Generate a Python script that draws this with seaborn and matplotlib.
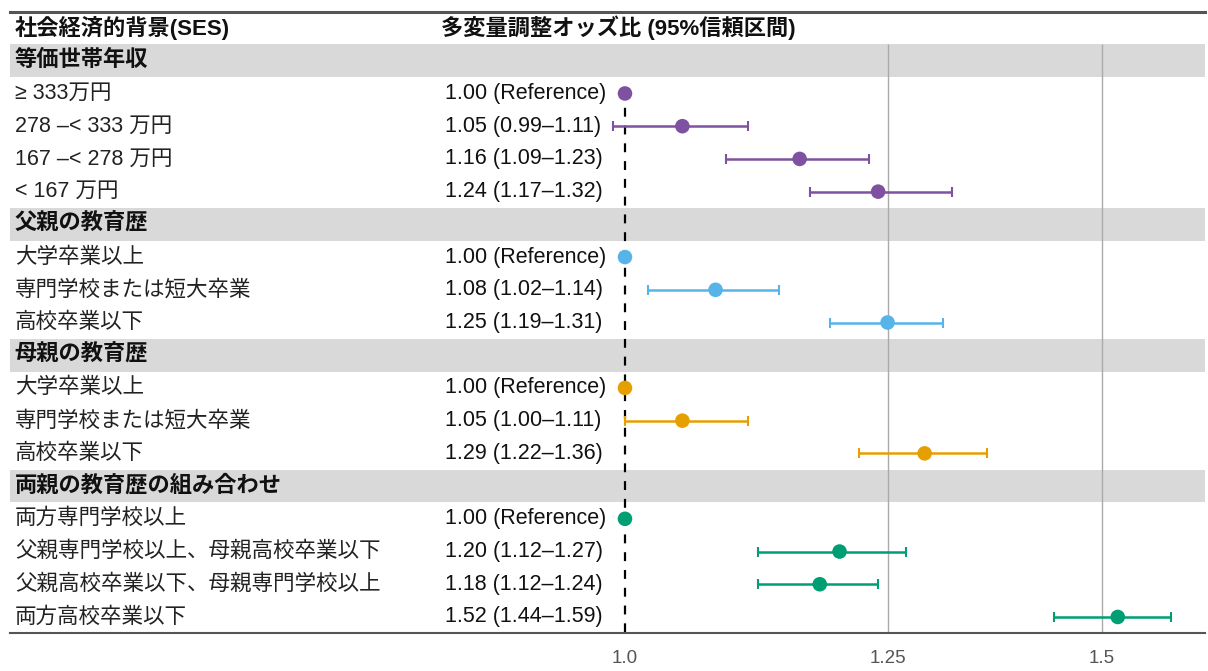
import numpy as np
import pandas as pd
import matplotlib
matplotlib.use("Agg")
import matplotlib.pyplot as plt
import seaborn as sns

# Forest plot data
groups = ["等価世帯年収", "父親の教育歴", "母親の教育歴", "両親の教育歴の組み合わせ"]
labels = [
    ["≥ 333万円", "278 –< 333 万円", "167 –< 278 万円", "< 167 万円"],
    ["大学卒業以上", "専門学校または短大卒業", "高校卒業以下"],
    ["大学卒業以上", "専門学校または短大卒業", "高校卒業以下"],
    ["両方専門学校以上", "父親専門学校以上、母親高校卒業以下",
     "父親高校卒業以下、母親専門学校以上", "両方高校卒業以下"],
]
odds = [[1.00, 1.05, 1.16, 1.24], [1.00, 1.08, 1.25], [1.00, 1.05, 1.29], [1.00, 1.20, 1.18, 1.52]]
lower = [[1.00, 0.99, 1.09, 1.17], [1.00, 1.02, 1.19], [1.00, 1.00, 1.22], [1.00, 1.12, 1.12, 1.44]]
upper = [[1.00, 1.11, 1.23, 1.32], [1.00, 1.14, 1.31], [1.00, 1.11, 1.36], [1.00, 1.27, 1.24, 1.59]]
colors = ["#7E52A0", "#56B4E9", "#E69F00", "#009E73"]
xticks = [1.0, 1.25, 1.5]
xtick_labels = ["1.0", "1.25", "1.5"]

sns.set_style("white")
plt.rcParams["font.family"] = ["Liberation Sans", "Noto Sans CJK JP", "DejaVu Sans"]

rows = []
band_rows = []
r = 1
for g, name in enumerate(groups):
    band_rows.append((r, name))
    r += 1
    for i, lab in enumerate(labels[g]):
        rows.append(dict(row=r, group=name, label=lab, odds=odds[g][i],
                         lo=lower[g][i], hi=upper[g][i], ref=(i == 0)))
        r += 1
df = pd.DataFrame(rows)
nrows = r

fig = plt.figure(figsize=(12.08, 6.71), dpi=100)
ax = fig.add_axes([10 / 1208, 38 / 671, 1195 / 1208, 621 / 671])
ax.set_xscale("log")
ax.set_xlim(0.593, 1.637)
ax.set_ylim(nrows - 0.51, -0.49)
ytr = ax.get_yaxis_transform()

# grey section bands
for br, name in band_rows:
    ax.axhspan(br - 0.5, br + 0.5, color="#D9D9D9", lw=0, zorder=0)
    ax.text(0.004, br, name, transform=ytr, ha="left", va="center",
            fontsize=16, fontweight="bold", color="#111111")

# gridlines and reference line
ax.vlines([1.25, 1.5], 0.5, nrows - 0.51, color="#AAAAAA", lw=1, zorder=1)
ax.vlines(1.0, 1.9, nrows - 0.51, color="black", lw=1.6, linestyles=(0, (4, 4)), zorder=2)

# error bars
palette = dict(zip(groups, colors))
for _, d in df[~df["ref"]].iterrows():
    ax.errorbar(d["odds"], d["row"], xerr=[[d["odds"] - d["lo"]], [d["hi"] - d["odds"]]],
                fmt="none", ecolor=palette[d["group"]], elinewidth=1.8, capsize=3.5,
                capthick=1.5, zorder=3)
sns.scatterplot(data=df, x="odds", y="row", hue="group", palette=palette, s=110,
                edgecolor="none", legend=False, zorder=4, ax=ax)

# text columns
for _, d in df.iterrows():
    ax.text(0.004, d["row"], d["label"], transform=ytr,
            ha="left", va="center", fontsize=15.5, color="#222222")
    ci = "(Reference)" if d["ref"] else f"({d['lo']:.2f}–{d['hi']:.2f})"
    ax.text(0.364, d["row"], f"{d['odds']:.2f} {ci}", transform=ytr,
            ha="left", va="center", fontsize=15.5, color="#111111")

ax.text(0.004, 0, "社会経済的背景(SES)", transform=ytr,
        ha="left", va="center", fontsize=16, fontweight="bold", color="#111111")
ax.text(0.361, 0, "多変量調整オッズ比 (95%信頼区間)", transform=ytr,
        ha="left", va="center", fontsize=16, fontweight="bold", color="#111111")

ax.set_xticks(xticks)
ax.set_xticklabels(xtick_labels, fontsize=13.5, color="#555555")
ax.minorticks_off()
ax.tick_params(axis="x", length=0, pad=12)
ax.set_yticks([])
ax.set_xlabel("")
ax.set_ylabel("")
for s in ["left", "right"]:
    ax.spines[s].set_visible(False)
ax.spines["top"].set_color("#555555")
ax.spines["top"].set_linewidth(2.2)
ax.spines["bottom"].set_color("#555555")
ax.spines["bottom"].set_linewidth(1.5)

fig.savefig("out.png", dpi=100)
